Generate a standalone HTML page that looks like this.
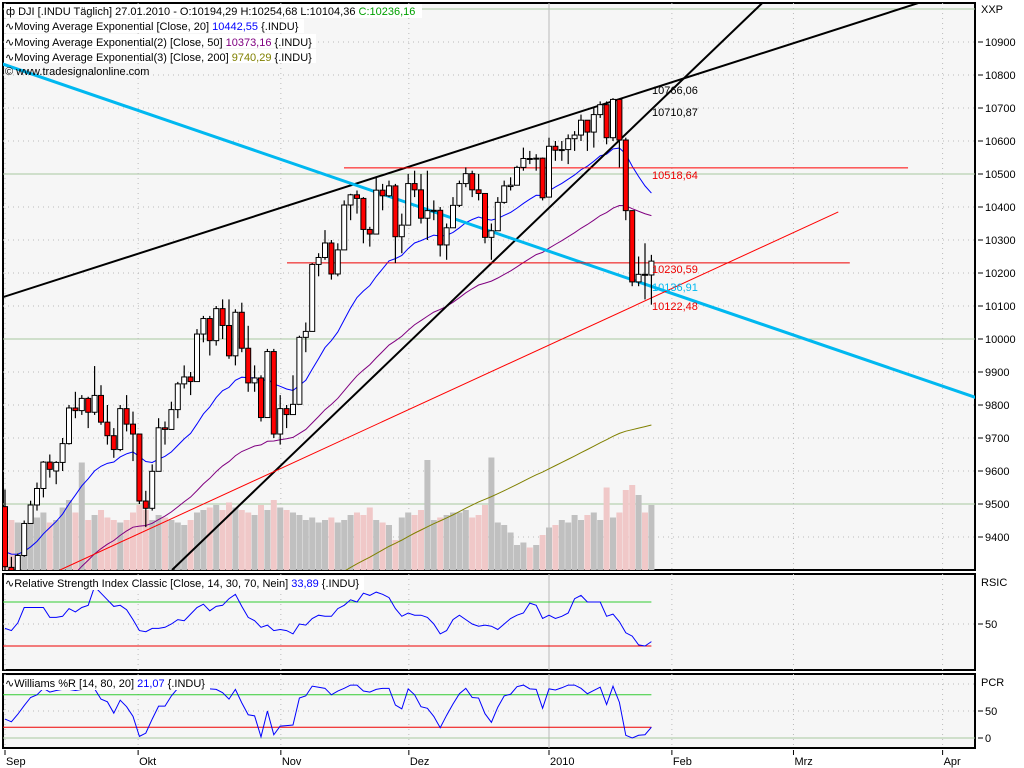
<!DOCTYPE html>
<html><head><meta charset="utf-8"><style>
html,body{margin:0;padding:0;background:#fff;}
svg{display:block;font-family:"Liberation Sans",sans-serif;}
</style></head><body>
<svg id="chart" width="1024" height="768" viewBox="0 0 1024 768" xmlns="http://www.w3.org/2000/svg">
<defs><clipPath id="mainClip"><rect x="3" y="3" width="972" height="567"/></clipPath></defs>
<rect x="0" y="0" width="1024" height="768" fill="#fff"/>
<rect x="3" y="3" width="972" height="567" fill="#f6f6f6" stroke="#000" stroke-width="2"/>
<rect x="3" y="574" width="972" height="96" fill="#f6f6f6" stroke="#000" stroke-width="2"/>
<rect x="3" y="674" width="972" height="74" fill="#f6f6f6" stroke="#000" stroke-width="2"/>
<g id="grid"></g>
<g id="mainG" clip-path="url(#mainClip)"></g>
<g id="ind"></g>
<g id="axes"></g>
<g id="legend" font-size="11">
  <rect x="4" y="4" width="418" height="14" fill="#fff"/>
  <text x="6" y="15">ф DJI [.INDU  Täglich] 27.01.2010 - O:10194,29 H:10254,68 L:10104,36 <tspan fill="#00a000">C:10236,16</tspan></text>
  <rect x="4" y="19" width="300" height="14" fill="#fff"/>
  <text x="5" y="30">∿Moving Average Exponential [Close, 20] <tspan fill="#0000ff">10442,55</tspan> {.INDU}</text>
  <rect x="4" y="34" width="312" height="14" fill="#fff"/>
  <text x="5" y="46">∿Moving Average Exponential(2) [Close, 50] <tspan fill="#800080">10373,16</tspan> {.INDU}</text>
  <rect x="4" y="49" width="312" height="14" fill="#fff"/>
  <text x="5" y="61">∿Moving Average Exponential(3) [Close, 200] <tspan fill="#808000">9740,29</tspan> {.INDU}</text>
  <text x="5" y="75">© www.tradesignalonline.com</text>
  <rect x="4" y="576" width="360" height="14" fill="#fff"/>
  <text x="5" y="587">∿Relative Strength Index Classic [Close, 14, 30, 70, Nein] <tspan fill="#0000ff">33,89</tspan> {.INDU}</text>
  <rect x="4" y="676" width="206" height="14" fill="#fff"/>
  <text x="5" y="687">∿Williams %R [14, 80, 20] <tspan fill="#0000ff">21,07</tspan> {.INDU}</text>
</g>
</svg>
<script>
const openP=[9492,9308,9282,9344,9441,9497,9547,9627,9600,9626,9683,9791,9783,9820,9778,9829,9748,9707,9665,9789,9742,
9712,9509,9487,9599,9731,9726,9786,9864,9885,9871,10015,10062,9995,10092,10041,9949,10081,9972,9867,9882,9762,9962,
9712,9789,9771,9802,10005,10023,10226,10247,10291,10197,10270,10406,10437,10426,10332,10318,10451,10434,10464,10310,
10345,10471,10452,10366,10389,10390,10285,10337,10405,10471,10501,10452,10441,10308,10328,10414,10462,10466,10520,10547,10545,10548,
10430,10584,10572,10574,10607,10618,10663,10627,10680,10710,10610,10726,10603,10389,10173,10196,10194];
const highP=[9544,9340,9350,9450,9510,9565,9630,9650,9630,9700,9800,9840,9830,9825,9918,9860,9800,9730,9800,9830,9780,
9712,9540,9620,9760,9750,9810,9870,9920,9900,10030,10070,10070,10100,10120,10120,10090,10110,10040,9920,9890,9970,9970,
9830,9800,9890,10010,10050,10230,10260,10330,10300,10290,10420,10440,10450,10430,10340,10490,10470,10480,10470,10380,
10500,10510,10500,10510,10420,10400,10350,10430,10480,10520,10510,10500,10441,10350,10430,10480,10490,10525,10580,10570,10560,10550,
10610,10600,10600,10620,10630,10680,10663,10700,10720,10720,10730,10726,10610,10390,10250,10290,10255];
const lowP=[9300,9255,9270,9340,9441,9480,9520,9580,9560,9600,9680,9760,9770,9730,9770,9740,9680,9640,9660,9720,9630,
9500,9430,9480,9599,9680,9726,9760,9850,9830,9871,9990,9950,9980,10000,9940,9920,9960,9840,9840,9750,9762,9700,
9680,9730,9770,9802,9960,10023,10190,10240,10180,10190,10270,10360,10380,10290,10280,10318,10390,10430,10230,10260,
10345,10430,10350,10300,10360,10250,10240,10337,10400,10460,10430,10420,10290,10240,10328,10410,10450,10466,10510,10530,10510,10420,
10430,10540,10540,10530,10570,10600,10570,10580,10670,10590,10600,10520,10360,10160,10160,10120,10104];
const closeP=[9310,9280,9344,9441,9497,9547,9627,9605,9626,9683,9791,9783,9820,9778,9829,9748,9707,9665,9789,9742,9712,
9509,9487,9599,9731,9726,9786,9864,9885,9871,10015,10062,9995,10092,10041,9949,10081,9972,9867,9882,9762,9962,9712,
9789,9771,9802,10005,10023,10226,10247,10291,10197,10270,10406,10437,10426,10332,10318,10451,10434,10464,10310,10345,
10471,10452,10366,10389,10390,10285,10337,10405,10471,10501,10452,10441,10308,10328,10414,10464,10466,10520,10547,10545,10548,10428,
10584,10572,10574,10607,10618,10663,10627,10680,10710,10610,10726,10603,10389,10173,10196,10194,10236];
const volume=[220,200,190,180,200,210,230,190,200,250,280,230,430,200,220,240,210,200,190,200,230,
260,240,200,220,210,200,190,180,200,230,240,250,260,240,270,250,240,230,220,260,240,280,
250,240,230,220,200,210,190,200,210,190,200,220,230,220,250,200,190,180,120,210,
230,220,240,440,200,210,220,230,230,240,210,220,260,450,190,180,150,100,110,90,100,140,
170,180,200,190,220,200,220,230,200,330,210,230,320,340,300,230,260];
const rsiVals=[46,44,51,65,65,65,65,56,56,57,64,61,65,67,84,78,72,66,67,63,54,
44,43,46,46,47,50,54,53,59,65,68,62,66,67,73,77,66,56,53,47,49,44,
45,44,41,50,49,55,58,57,57,64,67,72,70,78,76,79,77,74,64,57,
60,58,58,56,50,41,44,54,58,54,50,48,49,48,45,50,55,58,60,69,67,55,
58,55,57,60,73,76,70,70,70,57,59,52,42,39,31,30,34];
const willVals=[35,30,44,60,75,80,92,85,88,90,90,88,90,92,91,72,67,46,70,58,40,
3,9,35,59,59,78,92,91,90,91,91,91,90,84,72,90,65,43,41,2,50,6,
22,23,24,74,78,96,94,92,80,87,92,98,98,87,85,90,92,92,61,54,
91,80,58,55,40,19,42,63,82,92,75,74,45,29,57,78,81,95,98,91,90,55,
91,89,93,98,98,92,82,88,94,62,96,66,5,0,5,6,20];
const priceTicks=[9400,9500,9600,9700,9800,9900,10000,10100,10200,10300,10400,10500,10600,10700,10800,10900];
const monthLabels=["Sep","Okt","Nov","Dez","2010","Feb","Mrz","Apr"];
const monthIdx=[0,20.8,43.1,63.1,85.0,104.2,123.2,146.5];
const rsiTicks=[50];
const willTicks=[50,0];

const NS="http://www.w3.org/2000/svg";
function X(i){return 5+6.4*i;}
function Y(p){return 339-(p-10000)*0.33;}
function YR(v){return 624-(v-50)*1.1;}
function YW(v){return 738-v*0.54;}
function VH(v){return v*0.25;}
function mk(tag,attrs,parent){const e=document.createElementNS(NS,tag);for(const k in attrs)e.setAttribute(k,attrs[k]);parent.appendChild(e);return e;}
const grid=document.getElementById('grid'),mainG=document.getElementById('mainG'),ind=document.getElementById('ind'),axes=document.getElementById('axes');

// grid
priceTicks.forEach(p=>{const l=mk('line',{x1:3,x2:975,y1:Y(p),y2:Y(p),stroke:(p%500===0)?'#a8c8a0':'#bbb','stroke-dasharray':(p%500===0)?'':'1,4'},grid);
});
{const l=mk('line',{x1:3,x2:975,y1:Y(11000),y2:Y(11000),stroke:'#a8c8a0'},grid);}
monthIdx.forEach((m,k)=>{const x=X(m);const solid=monthLabels[k]==="2010";
 [[3,570],[574,670],[674,748]].forEach(r=>{const l=mk('line',{x1:x,x2:x,y1:r[0],y2:r[1],stroke:solid?'#bbb':'#bbb','stroke-dasharray':solid?'':'1,4'},grid);
 });});
[[YR(50),'#bbb','1,4'],[YR(70),'#3c3',''],[YR(30),'#e00','']].forEach(a=>{});

// volume
volume.forEach((v,i)=>{const up=closeP[i]>=openP[i];const r=mk('rect',{x:X(i)-3,y:570-VH(v),width:6,height:VH(v),fill:up?'#c0c0c0':'#f0c8c8'},mainG);
});

// EMAs
function ema(period,seed){const a=2/(period+1);let e=seed;return closeP.map(c=>{e=e+a*(c-e);return e;});}
const emaSpecs=[[20,9360,'#0000ff','ema20-line'],[50,9120,'#800080','ema50-line'],[200,8900,'#808000','ema200-line']];
emaSpecs.forEach(s=>{const vals=ema(s[0],s[1]);const pl=mk('polyline',{points:vals.map((v,i)=>X(i)+','+Y(v)).join(' '),fill:'none',stroke:s[2],'stroke-width':1},mainG);
});

// trend lines (drawn in index/price coords)
const trend=[[-0.78,10124,142.7,11018,'#000',2,'upper-trendline'],[26.1,9300,118.8,11027,'#000',2,'steep-trendline'],
[-0.78,10836,157.8,9782,'#00b8f0',3,'cyan-trendline'],[8.6,9300,130.2,10385,'#f00',1,'red-trendline'],
[52.97,10518.64,141.1,10518.64,'#f00',1,'resistance-10518'],[44.06,10230.59,132,10230.59,'#e00',1,'support-10230']];
trend.forEach(t=>{const l=mk('line',{x1:X(t[0]),y1:Y(t[1]),x2:X(t[2]),y2:Y(t[3]),stroke:t[4],'stroke-width':t[5]},mainG);
});

// candles
closeP.forEach((c,i)=>{const o=openP[i],x=X(i);const g=mk('g',{},mainG);

mk('line',{x1:x,x2:x,y1:Y(highP[i]),y2:Y(lowP[i]),stroke:'#000','stroke-width':1.2},g);
const top=Y(Math.max(o,c)),h=Math.max(1,Math.abs(Y(o)-Y(c)));
mk('rect',{x:x-2.5,y:top,width:5,height:h,fill:c>=o?'#fff':'#f00',stroke:'#000','stroke-width':1},g);});

// level labels
[["10766,06",94,'#000'],["10710,87",116,'#000'],["10518,64",179,'#e00'],["10230,59",273,'#e00'],["10136,91",291,'#00b8f0'],["10122,48",310,'#e00']].forEach(a=>{
const t=mk('text',{x:652,y:a[1],fill:a[2],'font-size':11},mainG);t.textContent=a[0];});

// RSI
mk('line',{x1:3,x2:X(101),y1:YR(70),y2:YR(70),stroke:'#3c3'},ind);
mk('line',{x1:3,x2:X(101),y1:YR(30),y2:YR(30),stroke:'#e00'},ind);
mk('line',{x1:3,x2:975,y1:YR(50),y2:YR(50),stroke:'#bbb','stroke-dasharray':'1,4'},ind);
{const pl=mk('polyline',{points:rsiVals.map((v,i)=>X(i)+','+YR(v)).join(' '),fill:'none',stroke:'#0000ff'},ind);}
// Williams
mk('line',{x1:3,x2:975,y1:YW(100),y2:YW(100),stroke:'#bbb','stroke-dasharray':'1,4'},ind);
mk('line',{x1:3,x2:975,y1:YW(50),y2:YW(50),stroke:'#bbb','stroke-dasharray':'1,4'},ind);
mk('line',{x1:3,x2:975,y1:YW(0),y2:YW(0),stroke:'#a8c8a0'},ind);
mk('line',{x1:3,x2:X(101),y1:YW(80),y2:YW(80),stroke:'#3c3'},ind);
mk('line',{x1:3,x2:X(101),y1:YW(20),y2:YW(20),stroke:'#e00'},ind);
{const pl=mk('polyline',{points:willVals.map((v,i)=>X(i)+','+YW(v)).join(' '),fill:'none',stroke:'#0000ff'},ind);}

// axes
function axLabel(txt,y,name){mk('line',{x1:978,x2:983,y1:y,y2:y,stroke:'#000'},axes);
const t=mk('text',{x:985,y:y+4,'font-size':11},axes);t.textContent=txt;}
priceTicks.forEach(p=>axLabel(String(p),Y(p),'price-tick-label'));
rsiTicks.forEach(v=>axLabel(String(v),YR(v),'rsi-tick-label'));
willTicks.forEach(v=>axLabel(String(v),YW(v),'williams-tick-label'));
[["XXP",13],["RSIC",586],["PCR",686]].forEach(a=>{const t=mk('text',{x:981,y:a[1],'font-size':11},axes);t.textContent=a[0];
});
monthIdx.forEach((m,k)=>{const x=X(m);mk('line',{x1:x,x2:x,y1:750,y2:755,stroke:'#000'},axes);
const t=mk('text',{x:x+1,y:765,'font-size':11},axes);t.textContent=monthLabels[k];});
</script>
</body></html>
